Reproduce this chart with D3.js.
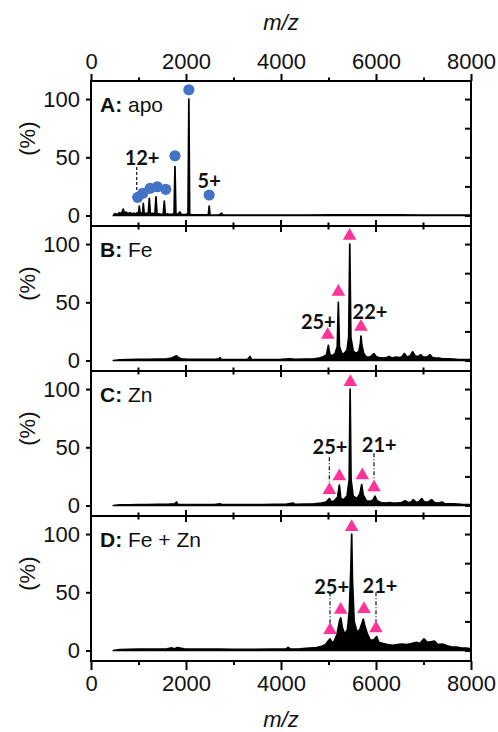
<!DOCTYPE html>
<html>
<head>
<meta charset="utf-8">
<script src="https://cdn.jsdelivr.net/npm/d3@7/dist/d3.min.js"></script>
<style>
  body { margin: 0; background: #fff; }
  svg text { font-family: 'Liberation Sans', Arial, sans-serif; fill: #111; }
  .charge { font-family: Lato, 'Open Sans', sans-serif; font-weight: 700; }
</style>
</head>
<body>
<div id="chart"></div>
<script>
// spectra: [m/z, intensity %]
const spectrumA = [
  [470, 0], [500, 1.5], [560, 1], [600, 2.5], [640, 1.5], [680, 5.5], [700, 2], [740, 3],
  [780, 1.5], [820, 2.5], [860, 1.5], [900, 2], [940, 1.5], [980, 2.5], [1000, 1.5],
  [1017, 8], [1035, 1.5], [1060, 2], [1085, 1.5], [1101, 10.5], [1120, 1.5], [1160, 2],
  [1205, 1.5], [1227, 14.7], [1250, 1.5], [1290, 2], [1345, 1], [1368, 16], [1390, 1],
  [1430, 1.5], [1470, 1], [1520, 1], [1543, 12.4], [1565, 1], [1600, 1.5], [1650, 1],
  [1700, 1], [1748, 1.5], [1768, 42], [1788, 1.5], [1830, 1], [1870, 3], [1900, 1],
  [1950, 0.8], [2000, 1], [2042, 1.5], [2060, 100], [2078, 1], [2120, 0.8], [2200, 0.5],
  [2300, 0.5], [2400, 0.5], [2470, 0.8], [2488, 8], [2506, 0.5], [2600, 0.3], [2700, 0.5],
  [2750, 2], [2780, 0.3], [2900, 0.3], [3500, 0.3], [4000, 0.4], [4500, 0.3], [5000, 0.5],
  [5500, 0.6], [6000, 0.5], [6500, 0.5], [7000, 0.4], [7500, 0.4], [8000, 0.3]
];
const spectrumB = [
  [470, 0], [600, 0.5], [800, 0.8], [1000, 1], [1200, 1], [1400, 1.2], [1600, 1.5], [1700, 2],
  [1760, 3.5], [1800, 4], [1840, 2.5], [1900, 1.5], [2000, 1.2], [2200, 1], [2400, 1],
  [2600, 1], [2700, 1.5], [2716, 2.5], [2740, 1], [2900, 0.8], [3100, 0.8], [3300, 1],
  [3347, 3.5], [3380, 0.8], [3600, 0.8], [3800, 0.8], [4000, 1], [4190, 1.5], [4300, 1],
  [4500, 1.2], [4700, 1.5], [4800, 2], [4900, 3.5], [4960, 5], [4996, 13], [5030, 5],
  [5080, 4], [5140, 6], [5185, 12], [5207, 50], [5230, 12], [5280, 6], [5330, 6], [5390, 9],
  [5425, 20], [5448, 100], [5471, 20], [5520, 8], [5580, 6], [5640, 8], [5670, 14],
  [5684, 21], [5700, 14], [5740, 6], [5800, 3], [5880, 3], [5930, 5], [5958, 6], [5990, 4],
  [6050, 2.5], [6150, 2], [6220, 2.5], [6280, 3.5], [6330, 2], [6420, 3], [6480, 2.5],
  [6540, 3], [6596, 6], [6650, 3], [6720, 4], [6772, 7.5], [6830, 3.5], [6900, 3.5],
  [6940, 5], [6990, 3], [7080, 3], [7137, 5], [7190, 2.5], [7260, 2], [7330, 2], [7400, 1.5],
  [7540, 1.5], [7700, 1], [7850, 0.8], [8000, 0.8]
];
const spectrumC = [
  [470, 0], [600, 0.5], [800, 0.6], [1000, 0.8], [1200, 0.8], [1400, 1], [1600, 1],
  [1760, 1.5], [1800, 3], [1830, 1], [2000, 0.8], [2300, 0.8], [2600, 0.8], [2716, 1.5],
  [2750, 0.8], [3000, 0.8], [3300, 0.8], [3600, 0.8], [3900, 1], [4100, 1], [4260, 2],
  [4300, 1], [4500, 1.2], [4700, 1.5], [4850, 2], [4950, 3], [5018, 6], [5060, 3],
  [5120, 4], [5190, 7], [5228, 17.5], [5260, 6], [5320, 5], [5390, 8], [5435, 22],
  [5455, 100], [5475, 22], [5520, 8], [5600, 6], [5660, 10], [5699, 18], [5730, 9],
  [5800, 4], [5880, 3.5], [5940, 5], [5979, 8], [6020, 4], [6100, 2.5], [6200, 2],
  [6295, 2.5], [6350, 2], [6450, 2], [6540, 2.5], [6610, 4], [6680, 2.5], [6740, 3],
  [6786, 5], [6850, 2.5], [6910, 3.5], [6961, 6], [7020, 3], [7100, 3], [7172, 5],
  [7230, 2.5], [7320, 2], [7383, 3], [7450, 1.5], [7630, 1.5], [7800, 1], [8000, 0.8]
];
const spectrumD = [
  [470, 0], [600, 0.8], [800, 1], [1000, 1.2], [1200, 1.2], [1400, 1.3], [1600, 1.5],
  [1700, 2.2], [1760, 1.5], [1820, 2.5], [1880, 2], [1950, 1.5], [2100, 1.2], [2400, 1.2],
  [2700, 1.2], [3000, 1], [3400, 1], [3800, 1.2], [4100, 1.3], [4150, 2.5], [4200, 1.3],
  [4400, 1.5], [4600, 2], [4750, 2.5], [4850, 3.5], [4930, 5], [4990, 8], [5032, 10],
  [5070, 7], [5120, 8], [5180, 14], [5230, 25], [5256, 28], [5290, 20], [5340, 14],
  [5400, 18], [5440, 35], [5470, 70], [5488, 100], [5505, 60], [5540, 25], [5600, 16],
  [5660, 18], [5710, 24], [5733, 27], [5760, 22], [5820, 14], [5880, 9], [5950, 9],
  [6014, 12], [6060, 7], [6150, 6], [6250, 5], [6350, 4.5], [6450, 5], [6550, 5.5],
  [6650, 5], [6750, 6], [6850, 7], [6920, 6], [7010, 10], [7080, 7], [7150, 7.5],
  [7230, 8], [7300, 5], [7400, 5.5], [7500, 4], [7600, 3], [7700, 3], [7800, 2],
  [7900, 2], [8000, 1.5]
];

// markers over the charge states
const circleMzA = [983, 1088, 1242, 1396, 1573, 1768, 2060, 2488];
const circlePctA = [15.6, 19, 23.3, 24.7, 22.5, 51.3, 108, 17.6];
const triangleMzB = [4983, 5207, 5445, 5684];
const trianglePctB = [22, 59, 107, 29];
const triangleMzC = [5018, 5228, 5460, 5712, 5958];
const trianglePctC = [13.3, 25, 106, 26, 15.6];
const triangleMzD = [5032, 5256, 5488, 5747, 6000];
const trianglePctD = [17.6, 35, 106, 35.6, 19];

// charge labels [text, m/z, %] and dashed guides [m/z, from %, to %]
const chargeLabelsA = [['12+', 1075, 50], ['5+', 2488, 30.5]];
const chargeLabelsB = [['25+', 4786, 34], ['22+', 5874, 42.5]];
const chargeLabelsC = [['25+', 5032, 51], ['21+', 6069, 52.8]];
const chargeLabelsD = [['25+', 5067, 55.6], ['21+', 6084, 56.2]];
const guidesA = [[962, 41.6, 20.6]];
const guidesB = [];
const guidesC = [[5018, 41.4, 20.4], [5958, 44.8, 23.3]];
const guidesD = [[5032, 50, 23.3], [6000, 50, 24.7]];

const panelKeys = ['A', 'B', 'C', 'D'];
const panelNames = ['apo', 'Fe', 'Zn', 'Fe + Zn'];
const mzTicks = [0, 2000, 4000, 6000, 8000];
const mzMinorTicks = [1000, 3000, 5000, 7000];
const pctTicks = [0, 50, 100];
const pctAllTicks = [0, 25, 50, 75, 100];

const panels = [
  { spectrum: spectrumA, mz: circleMzA, pct: circlePctA, shape: 'circle', labels: chargeLabelsA, guides: guidesA },
  { spectrum: spectrumB, mz: triangleMzB, pct: trianglePctB, shape: 'triangle', labels: chargeLabelsB, guides: guidesB },
  { spectrum: spectrumC, mz: triangleMzC, pct: trianglePctC, shape: 'triangle', labels: chargeLabelsC, guides: guidesC },
  { spectrum: spectrumD, mz: triangleMzD, pct: trianglePctD, shape: 'triangle', labels: chargeLabelsD, guides: guidesD }
];

// dimension stuff
const width = 498;
const height = 732;
const left = 91;
const right = 471;
const top0 = 81;
const panelH = 145;
const bottom = top0 + panelH * panels.length;

const scaleX = d3.scaleLinear().domain([0, 8000]).range([left, right]);

const $svg = d3.select('#chart').append('svg')
  .attr('width', width)
  .attr('height', height);

$svg.append('rect').attr('width', width).attr('height', height).attr('fill', '#fff');

panels.forEach((p, i) => {
  const y0 = top0 + panelH * i;
  const scaleY = d3.scaleLinear().domain([-9, 115.5]).range([y0 + panelH, y0]);
  const $g = $svg.append('g').attr('class', `panel panel--${panelKeys[i]}`);

  const area = d3.area()
    .x(d => scaleX(d[0]))
    .y0(scaleY(0))
    .y1(d => scaleY(d[1]));

  $g.append('path')
    .datum(p.spectrum)
    .attr('d', area)
    .attr('fill', '#000')
    .attr('stroke', '#000')
    .attr('stroke-width', 1.7)
    .attr('stroke-linejoin', 'round');

  // y axes: labelled outward on the left, inward ticks on the right
  const $yl = $g.append('g')
    .attr('transform', `translate(${left},0)`)
    .call(d3.axisLeft(scaleY).tickValues(pctTicks).tickSize(5).tickPadding(6).tickSizeOuter(0));
  $yl.select('.domain').remove();
  $yl.selectAll('line').attr('stroke-width', 2);
  $yl.selectAll('text').attr('font-size', 22).attr('font-family', null);

  const $yr = $g.append('g')
    .attr('transform', `translate(${right},0)`)
    .call(d3.axisLeft(scaleY).tickValues(pctAllTicks).tickSize(6).tickFormat(''));
  $yr.select('.domain').remove();
  $yr.selectAll('line').attr('stroke-width', 2);

  $g.append('text')
    .attr('transform', `translate(27,${scaleY(66)}) rotate(-90)`)
    .attr('text-anchor', 'middle')
    .attr('dominant-baseline', 'central')
    .attr('font-size', 22)
    .text('(%)');

  const $name = $g.append('text')
    .attr('x', 100)
    .attr('y', scaleY(96))
    .attr('dominant-baseline', 'central')
    .attr('font-size', 21);
  $name.append('tspan').attr('font-weight', 700).text(`${panelKeys[i]}:`);
  $name.append('tspan').text(` ${panelNames[i]}`);

  // dashed guides
  $g.selectAll('.guide')
    .data(p.guides)
    .join('line')
    .attr('class', 'guide')
    .attr('x1', d => scaleX(d[0]))
    .attr('x2', d => scaleX(d[0]))
    .attr('y1', d => scaleY(d[1]))
    .attr('y2', d => scaleY(d[2]))
    .attr('stroke', '#222')
    .attr('stroke-width', 1.3)
    .attr('stroke-dasharray', i === 0 ? '3,2' : '4,2,1,2');

  const markers = p.mz.map((m, k) => [m, p.pct[k]]);
  if (p.shape === 'circle') {
    $g.selectAll('.marker')
      .data(markers)
      .join('circle')
      .attr('class', 'marker')
      .attr('cx', d => scaleX(d[0]))
      .attr('cy', d => scaleY(d[1]))
      .attr('r', 5.6)
      .attr('fill', '#4472c4');
  } else {
    const tri = d3.symbol(d3.symbolTriangle, 80);
    $g.selectAll('.marker')
      .data(markers)
      .join('path')
      .attr('class', 'marker')
      .attr('d', tri)
      .attr('transform', d => `translate(${scaleX(d[0])},${scaleY(d[1])})`)
      .attr('fill', '#ff3399');
  }

  $g.selectAll('.charge')
    .data(p.labels)
    .join('text')
    .attr('class', 'charge')
    .attr('x', d => scaleX(d[1]))
    .attr('y', d => scaleY(d[2]))
    .attr('text-anchor', 'middle')
    .attr('dominant-baseline', 'central')
    .attr('font-size', 20)
    .text(d => d[0]);

  // frame
  $g.append('rect')
    .attr('x', left)
    .attr('y', y0)
    .attr('width', right - left)
    .attr('height', panelH)
    .attr('fill', 'none')
    .attr('stroke', '#000')
    .attr('stroke-width', 2);

  // ticks crossing the shared edge between panels
  if (i > 0) {
    const $cross = $g.append('g').attr('class', 'cross-ticks');
    $cross.selectAll('.major')
      .data(mzTicks)
      .join('line')
      .attr('x1', d => scaleX(d)).attr('x2', d => scaleX(d))
      .attr('y1', y0 - 6).attr('y2', y0 + 6)
      .attr('stroke', '#000').attr('stroke-width', 2);
    $cross.selectAll('.minor')
      .data(mzMinorTicks)
      .join('line')
      .attr('x1', d => scaleX(d)).attr('x2', d => scaleX(d))
      .attr('y1', y0 - 3.5).attr('y2', y0 + 3.5)
      .attr('stroke', '#000').attr('stroke-width', 2);
  }
});

// outer m/z axes
function mzAxis(axisFn, y, labelled, size) {
  const $a = $svg.append('g')
    .attr('transform', `translate(0,${y})`)
    .call(axisFn(scaleX)
      .tickValues(labelled ? mzTicks : mzMinorTicks)
      .tickSize(size)
      .tickPadding(5)
      .tickSizeOuter(0)
      .tickFormat(labelled ? d3.format('d') : ''));
  $a.select('.domain').remove();
  $a.selectAll('line').attr('stroke-width', 2);
  $a.selectAll('text').attr('font-size', 22).attr('font-family', null);
  return $a;
}
mzAxis(d3.axisTop, top0, true, 7);
mzAxis(d3.axisTop, top0, false, 3.5);
mzAxis(d3.axisBottom, bottom, true, 9);
mzAxis(d3.axisBottom, bottom, false, 4);

$svg.append('text')
  .attr('x', (left + right) / 2)
  .attr('y', 30)
  .attr('text-anchor', 'middle')
  .attr('font-size', 22)
  .attr('font-style', 'italic')
  .text('m/z');

$svg.append('text')
  .attr('x', (left + right) / 2)
  .attr('y', 727)
  .attr('text-anchor', 'middle')
  .attr('font-size', 22)
  .attr('font-style', 'italic')
  .text('m/z');
</script>
</body>
</html>
